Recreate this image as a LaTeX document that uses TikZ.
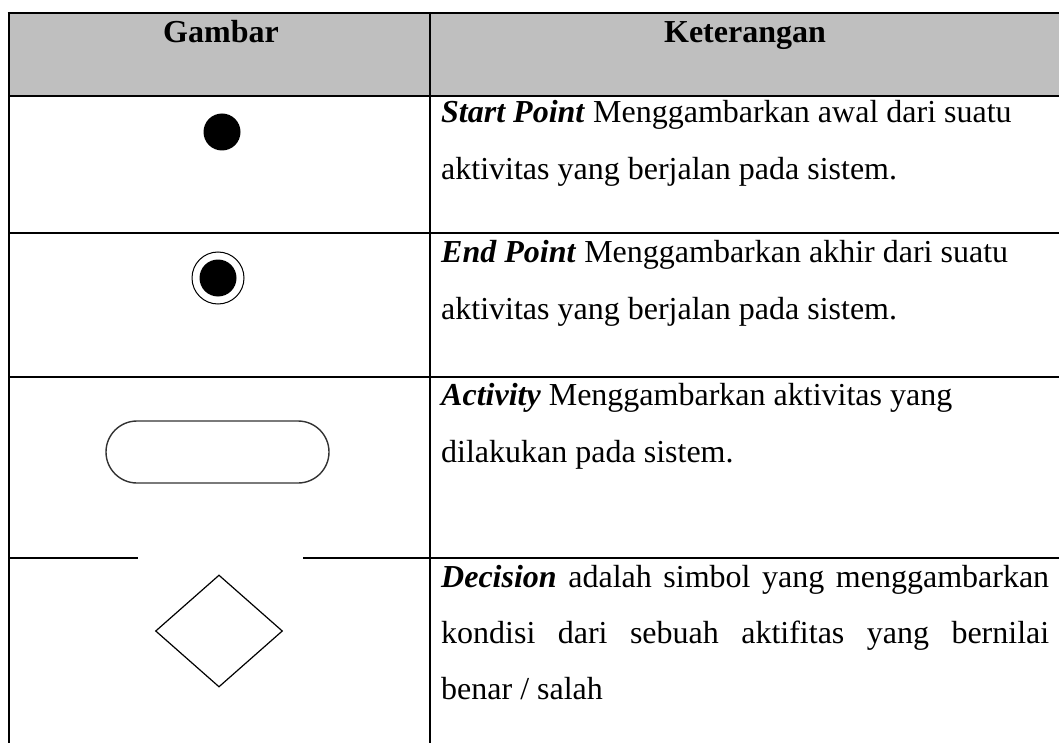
\documentclass[tikz,border=0pt]{standalone}
\usepackage{fontspec}
\setmainfont{Liberation Serif}
\usepackage{tikz}
\usetikzlibrary{shapes.geometric, positioning}
\usepackage{xcolor}
\definecolor{headgray}{HTML}{BFBFBF}

\tikzset{
	rule/.style = {line width=2pt, black},
	head/.style = {anchor=base, inner sep=0pt, font=\fontsize{32}{38}\selectfont\bfseries},
	desc/.style = {anchor=base west, inner sep=0pt, font=\fontsize{32}{38}\selectfont},
}
\newcommand{\term}[1]{\textbf{\textit{#1}}}

\begin{document}
\begin{tikzpicture}[x=1pt, y=-1pt]
		\useasboundingbox (0,0) rectangle (1059,743);
		\fill[headgray] (8,13) rectangle (1059,96);

		% garis tabel
		\draw[rule] (7.5,13) -- (1059,13);
		\draw[rule] (8.5,12) -- (8.5,743);
		\draw[rule] (429.5,12) -- (429.5,743);
		\draw[rule] (8,96) -- (1059,96);
		\draw[rule] (8,233) -- (1059,233);
		\draw[rule] (8,377) -- (1059,377);
		\draw[rule] (8,558) -- (138,558) (303,558) -- (1059,558);

		\draw (221,43) node[head] (hgbr) {Gambar}
		(745,43) node[head] (hket) {Keterangan};

		% simbol
		\node[circle, fill=black, minimum size=37pt, inner sep=0pt] (start) at (222,132) {};
		\node[circle, draw, line width=1pt, minimum size=52pt, inner sep=0pt] (endo) at (218,278) {};
		\node[circle, fill=black, minimum size=37pt, inner sep=0pt] (endi) at (218,278) {};
		\node[rectangle, draw=black!80, line width=1.4pt, rounded corners=31pt, minimum width=223pt, minimum height=62pt, inner sep=0pt] (act) at (217.5,452) {};
		\node[diamond, draw, line width=1.2pt, minimum width=127pt, minimum height=112pt, inner sep=0pt] (dec) at (219,631) {};

		% keterangan
		\draw (441,123) node[desc] (t1a) {\term{Start Point} Menggambarkan awal dari suatu}
		(441,180) node[desc] (t1b) {aktivitas yang berjalan pada sistem.}
		(441,262) node[desc] (t2a) {\term{End Point} Menggambarkan akhir dari suatu}
		(441,319) node[desc] (t2b) {aktivitas yang berjalan pada sistem.}
		(441,405) node[desc] (t3a) {\term{Activity} Menggambarkan aktivitas yang}
		(441,462) node[desc] (t3b) {dilakukan pada sistem.}
		(441,587) node[desc] (t4a) {\makebox[608pt][s]{\term{Decision} adalah simbol yang menggambarkan}}
		(441,643) node[desc] (t4b) {\makebox[608pt][s]{kondisi dari sebuah aktifitas yang bernilai}}
		(441,699) node[desc] (t4c) {benar / salah};
	\end{tikzpicture}
\end{document}
